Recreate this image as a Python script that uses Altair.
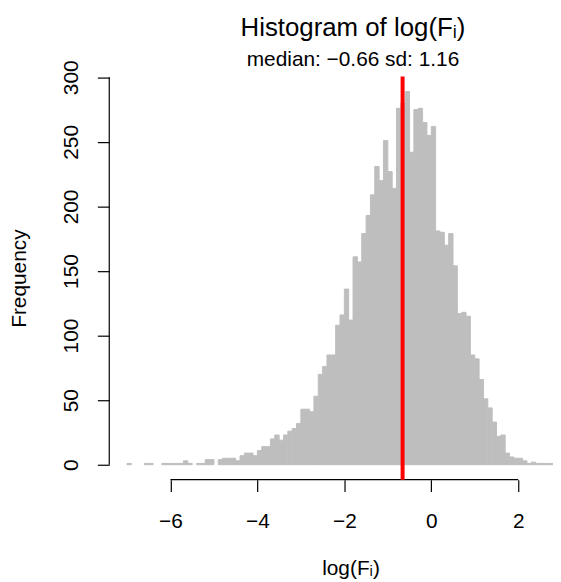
import altair as alt
import pandas as pd

# ---- data ----
bin_start = -7.0
bin_width = 0.1
counts = [
    1, 0, 0, 0, 1, 1, 0, 0, 1, 1,          # -7.0 .. -6.1
    1, 1, 1, 3, 1, 0, 1, 1, 4, 4,          # -6.0 .. -5.1
    0, 4, 5, 5, 5, 3, 7, 9, 9, 7,          # -5.0 .. -4.1
    11, 14, 14, 20, 23, 19, 23, 26, 28, 32,  # -4.0 .. -3.1
    43, 43, 41, 53, 70, 76, 85, 85, 108, 116,  # -3.0 .. -2.1
    136, 112, 161, 157, 179, 193, 209, 231, 220, 251,  # -2.0 .. -1.1
    227, 214, 276, 280, 289, 242, 275, 276, 265, 255,  # -1.0 .. -0.1
    262, 181, 180, 170, 179, 154, 117, 118, 115, 85,   # 0.0 .. 0.9
    82, 66, 51, 44, 33, 22, 23, 9, 6, 5,               # 1.0 .. 1.9
    5, 3, 1, 2, 1, 1, 1, 1, 1,                         # 2.0 .. 2.8
]
median_val = -0.66
sd_val = 1.16
x_ticks = [-6, -4, -2, 0, 2]
y_ticks = [0, 50, 100, 150, 200, 250, 300]
x_domain = [-7.408, 2.8]
y_domain = [-11.56, 300.56]

FONT = "Liberation Sans"
GREY = "#BEBEBE"
FS = 21

starts = [round(bin_start + i * bin_width, 1) for i in range(len(counts))]
hist = pd.DataFrame({
    "start": starts,
    "end": [round(s + bin_width, 1) for s in starts],
    "count": counts,
})
hist = hist[hist["count"] > 0]

xscale = alt.Scale(domain=x_domain, nice=False, zero=False)
yscale = alt.Scale(domain=y_domain, nice=False, zero=False)

bars = alt.Chart(hist).mark_rect(
    color=GREY, stroke=GREY, strokeWidth=1, clip=True
).encode(
    x=alt.X("start:Q", scale=xscale,
            axis=alt.Axis(values=x_ticks, domain=False, grid=False, tickSize=12,
                          tickColor="black", tickWidth=1.2, labelFontSize=FS,
                          labelFont=FONT, labelColor="black", labelPadding=36,
                          labelBaseline="alphabetic", labelFlush=False,
                          title="log(Fᵢ)", titleFont=FONT, titleFontSize=FS,
                          titleFontWeight="normal", titleColor="black",
                          titleX=243, titleY=96, titleAlign="center",
                          titleBaseline="alphabetic", titleAnchor="start")),
    x2="end:Q",
    y=alt.Y("count:Q", scale=yscale,
            axis=alt.Axis(values=y_ticks, domain=False, grid=False, tickSize=12,
                          tickColor="black", tickWidth=1.2, labelFontSize=FS,
                          labelFont=FONT, labelColor="black", labelAngle=270,
                          labelAlign="center", labelBaseline="alphabetic",
                          labelPadding=20, labelFlush=False,
                          title="Frequency", titleFont=FONT, titleFontSize=FS,
                          titleFontWeight="normal", titleColor="black",
                          titleAngle=270, titleX=-84, titleY=203,
                          titleAlign="center", titleBaseline="alphabetic",
                          titleAnchor="start")),
    y2=alt.datum(0),
)

xaxis_line = alt.Chart(pd.DataFrame({"a": [min(x_ticks)], "b": [max(x_ticks)]})).mark_rule(
    color="black", strokeWidth=1.2
).encode(x="a:Q", x2="b:Q", y=alt.datum(y_domain[0]))

yaxis_line = alt.Chart(pd.DataFrame({"a": [min(y_ticks)], "b": [max(y_ticks)]})).mark_rule(
    color="black", strokeWidth=1.2
).encode(y="a:Q", y2="b:Q", x=alt.datum(x_domain[0]))

median_line = alt.Chart(pd.DataFrame({"m": [median_val]})).mark_rule(
    color="#FF0000", strokeWidth=4
).encode(x="m:Q")

chart = alt.layer(bars, xaxis_line, yaxis_line, median_line).properties(
    width=447,
    height=406,
    background="white",
    autosize=alt.AutoSizeParams(type="none"),
    padding={"left": 102, "top": 67, "right": 0, "bottom": 101},
    title=alt.TitleParams(
        text="Histogram of log(Fᵢ)",
        subtitle=f"median: {median_val:.2f} sd: {sd_val:.2f}".replace("-", "−"),
        font=FONT, subtitleFont=FONT, fontSize=26, subtitleFontSize=FS,
        fontWeight="normal", color="black", subtitleColor="black",
        anchor="middle", dx=22, dy=18, offset=8, subtitlePadding=8,
    ),
).configure_view(strokeWidth=0, stroke="transparent")

chart.save("out.html", embed_options={"renderer": "svg", "actions": False})
